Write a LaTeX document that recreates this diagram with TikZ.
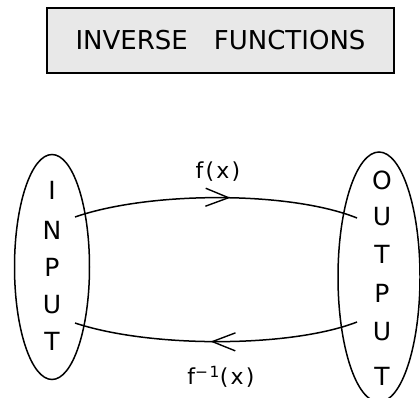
\documentclass[tikz,border=0pt]{standalone}
\usepackage{fontspec}
\setmainfont{DejaVu Sans}
\usetikzlibrary{shapes.geometric,arrows.meta,decorations.markings}
\begin{document}
\begin{tikzpicture}[x=1pt,y=-1pt,
  line width=1.5pt,
  letter/.style={font=\fontsize{25}{25}\selectfont, inner sep=0pt},
  oval/.style={draw, ellipse, inner sep=0pt},
  lbl/.style={font=\fontsize{22}{22}\selectfont\addfontfeatures{LetterSpace=10}, inner sep=0pt},
  midarrow/.style={postaction={decorate}, decoration={markings,
    mark=at position #1 with {\arrow{Straight Barb[length=23pt,width=18pt,line width=1.4pt]}}}}
]
\useasboundingbox (0,0) rectangle (420,398);
\node[draw, line width=1.3pt, fill=black!9, minimum width=347pt, minimum height=65pt, inner sep=0pt,
      font=\fontsize{26}{26}\selectfont] (title) at (220.5,40.5) {INVERSE\hspace{1em}FUNCTIONS};

\node[oval, minimum width=75pt, minimum height=225pt] (in) at (52,267) {};
\node[oval, minimum width=82pt, minimum height=250pt] (out) at (379,277) {};

\foreach \c/\y [count=\i] in {I/190,N/230,P/267,U/305,T/341}
  \node[letter] (in\i) at (52,\y) {\c};
\foreach \c/\y [count=\i] in {O/180,U/217,T/254,P/293,U/332,T/376}
  \node[letter] (out\i) at (382,\y) {\c};

\coordinate (a1) at (75,217);
\coordinate (a2) at (357,218);
\coordinate (b1) at (357,322);
\coordinate (b2) at (75,323);

\draw[midarrow=0.55] (a1) .. controls (150,191) and (290,191) .. (a2);
\draw[midarrow=0.52] (b1) .. controls (290,348) and (150,348) .. (b2);

\node[lbl] (fx) at (218,172) {f(x)};
\node[lbl] (finv) at (221,377) {f\textsuperscript{−1}(x)};
\end{tikzpicture}
\end{document}
